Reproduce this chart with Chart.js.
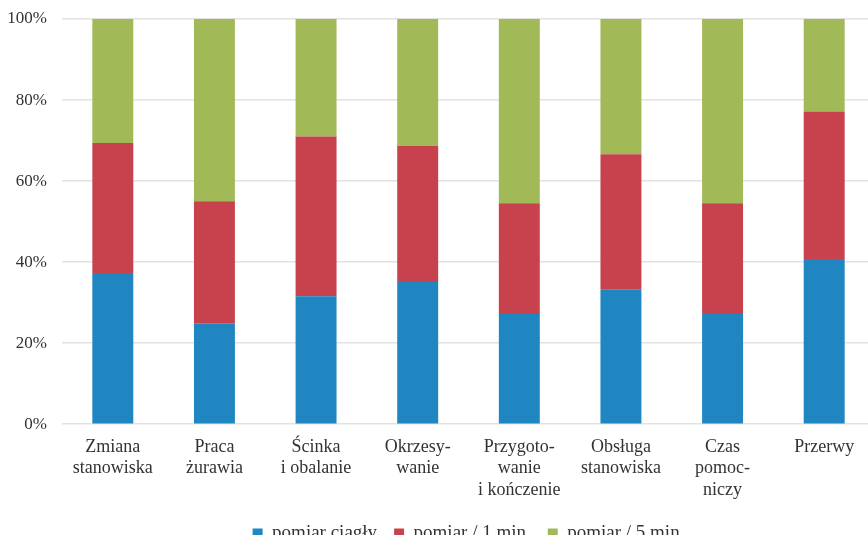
<!DOCTYPE html>
<html lang="pl">
<head>
<meta charset="utf-8">
<title>Struktura pomiarów czasu pracy</title>
<script src="https://cdn.jsdelivr.net/npm/chart.js@4.4.1/dist/chart.umd.min.js"></script>
<style>
  html, body { margin: 0; padding: 0; background: #ffffff; overflow: hidden; }
  #wrap { position: relative; width: 868px; height: 535px; overflow: hidden; }
  #chart { position: absolute; left: 0; top: 0; }
</style>
</head>
<body>
<div id="wrap"><canvas id="chart" width="880" height="566"></canvas></div>
<script>
// Operations (multi-line category labels)
const categories = [
  ["Zmiana", "stanowiska"],
  ["Praca", "żurawia"],
  ["Ścinka", "i obalanie"],
  ["Okrzesy-", "wanie"],
  ["Przygoto-", "wanie", "i kończenie"],
  ["Obsługa", "stanowiska"],
  ["Czas", "pomoc-", "niczy"],
  ["Przerwy"]
];

// Share of each measurement method, in percent
const pomiarCiagly = [37.3, 24.9, 31.6, 35.1, 27.2, 33.3, 27.2, 40.8];
const pomiar1min   = [32.1, 30.1, 39.4, 33.6, 27.3, 33.3, 27.3, 36.4];
const pomiar5min   = [30.6, 45.0, 29.0, 31.3, 45.5, 33.4, 45.5, 22.8];

const seriesNames = ["pomiar ciągły", "pomiar / 1 min.", "pomiar / 5 min."];
const yTicks = [0, 20, 40, 60, 80, 100];

const FONT = "'Liberation Serif', 'Times New Roman', serif";
const TEXT = "#333333";

new Chart(document.getElementById("chart"), {
  type: "bar",
  data: {
    labels: categories,
    datasets: [
      { label: seriesNames[0], data: pomiarCiagly, backgroundColor: "#1f86c2" },
      { label: seriesNames[1], data: pomiar1min,   backgroundColor: "#c8424d" },
      { label: seriesNames[2], data: pomiar5min,   backgroundColor: "#a2b958" }
    ]
  },
  options: {
    responsive: false,
    devicePixelRatio: 1,
    animation: false,
    datasets: {
      bar: { categoryPercentage: 1.0, barPercentage: 0.403, borderWidth: 0 }
    },
    layout: { padding: { top: 19, right: 5, bottom: 13, left: 0 } },
    plugins: {
      tooltip: { enabled: false },
      legend: {
        position: "bottom",
        fullSize: false,
        labels: {
          font: { family: FONT, size: 19 },
          color: TEXT,
          boxWidth: 10,
          boxHeight: 10,
          padding: 17
        }
      }
    },
    scales: {
      x: {
        stacked: true,
        afterFit: (scale) => { scale.height -= 6; },
        grid: { display: false, drawTicks: false },
        border: { display: false },
        ticks: {
          font: { family: FONT, size: 18, lineHeight: 1.2 },
          color: TEXT,
          padding: 12,
          maxRotation: 0,
          autoSkip: false
        }
      },
      y: {
        stacked: true,
        min: 0,
        max: 100,
        afterFit: (scale) => { scale.width = 62; scale.paddingTop = 0; scale.paddingBottom = 0; },
        afterBuildTicks: (scale) => { scale.ticks = yTicks.map(v => ({ value: v })); },
        grid: { color: "#e2e2e2", lineWidth: 1.5, drawTicks: false },
        border: { display: false },
        ticks: {
          font: { family: FONT, size: 17 },
          color: TEXT,
          padding: 15,
          callback: (v) => v + "%"
        }
      }
    }
  }
});
</script>
</body>
</html>
